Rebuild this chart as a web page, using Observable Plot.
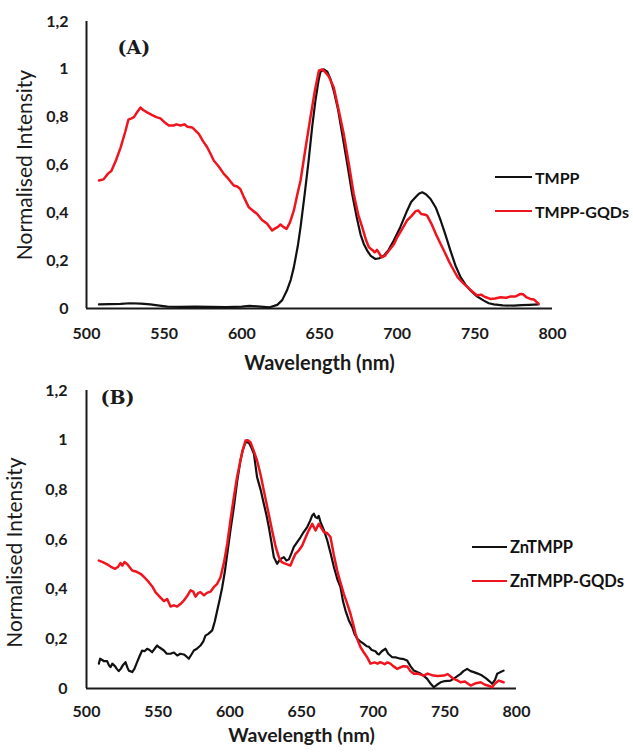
<!DOCTYPE html>
<html><head><meta charset="utf-8">
<script src="https://cdn.jsdelivr.net/npm/d3@7"></script>
<script src="https://cdn.jsdelivr.net/npm/@observablehq/plot@0.6"></script>
<style>
body{margin:0;background:#fff;}
#wrap{position:relative;width:633px;height:752px;overflow:hidden;}
.panel{position:relative;width:633px;}
.item{position:absolute;display:flex;align-items:center;white-space:nowrap;height:20px;
  font-family:Lato,sans-serif;font-weight:700;color:#111;z-index:2;}
.sw{display:inline-block;height:2.5px;}
</style></head><body>
<div id="wrap"><div id="pa" class="panel"></div><div id="pb" class="panel"></div></div>
<script>
// ---- tick labels ----
const xTicks = [500, 550, 600, 650, 700, 750, 800];
const yTicks = [0, 0.2, 0.4, 0.6, 0.8, 1, 1.2];

// ---- Panel A series: [wavelength nm, normalised intensity] ----
const namesA = ["TMPP", "TMPP-GQDs"];
const tmpp = [
[508,0.017],[515,0.018],[522,0.019],[528,0.022],[535,0.02],[541,0.017],[547,0.012],[552,0.008],
[560,0.007],[570,0.008],[580,0.007],[590,0.006],[600,0.008],[605,0.011],[612,0.008],[618,0.005],
[622.8,0.015],[626,0.035],[629,0.075],[631.5,0.12],[633.5,0.173],[636,0.26],[637.8,0.34],[640.5,0.48],
[643,0.618],[645.3,0.76],[647.4,0.87],[649.3,0.95],[650.6,0.99],[652.8,1.0],[655,0.99],[657,0.96],
[659.2,0.91],[662,0.83],[664.6,0.73],[668,0.6],[671,0.48],[674,0.38],[676.4,0.31],[678.5,0.27],
[680.7,0.242],[683,0.22],[686,0.207],[688.5,0.21],[691.4,0.221],[694.5,0.245],[697.8,0.284],[702,0.34],
[706.4,0.409],[709,0.445],[711.8,0.465],[714,0.48],[716.1,0.486],[718.5,0.478],[721.5,0.458],[725,0.42],
[728,0.368],[731,0.31],[734.3,0.242],[737.5,0.18],[740.8,0.131],[744,0.1],[747.2,0.075],[751,0.052],
[755.8,0.033],[759,0.022],[762.2,0.017],[768,0.013],[775,0.012],[780,0.014],[785,0.015],[791,0.017]
];
const tmppGqds = [
[508,0.535],[511,0.54],[514,0.565],[516,0.575],[519,0.62],[522,0.674],[525,0.74],[527,0.79],[529,0.795],
[530.5,0.8],[532,0.815],[534.8,0.84],[536.5,0.83],[539,0.82],[542,0.81],[545,0.8],[547.6,0.795],[550,0.78],
[553,0.765],[556,0.765],[558,0.77],[560.5,0.765],[563,0.77],[565,0.76],[568,0.757],[570,0.745],[572.3,0.73],
[575,0.7],[577.7,0.674],[580,0.645],[582,0.618],[585,0.595],[588.4,0.563],[591,0.545],[594.8,0.514],[597,0.51],
[599,0.5],[601,0.47],[604.5,0.423],[607,0.41],[609.9,0.395],[613,0.37],[616.3,0.354],[619.5,0.326],[621.5,0.335],
[623,0.34],[624.9,0.351],[627,0.34],[628.8,0.333],[631,0.36],[633.5,0.41],[635.5,0.47],[637.8,0.535],[641,0.67],
[644.2,0.8],[647,0.91],[649.6,0.994],[651.7,1.0],[653.5,0.99],[656,0.97],[659.2,0.924],[662,0.84],[665.6,0.73],
[669,0.6],[672,0.48],[675,0.39],[677.5,0.34],[680,0.285],[681.8,0.256],[684,0.245],[685.5,0.235],[687,0.245],
[688.5,0.23],[690,0.214],[692,0.22],[695,0.245],[698,0.27],[700,0.298],[703,0.33],[706.4,0.368],[709,0.385],
[711.8,0.406],[713.5,0.41],[715.5,0.395],[718,0.392],[719.3,0.388],[722,0.355],[725,0.31],[728,0.27],[731,0.23],
[733.5,0.195],[736.5,0.159],[739,0.13],[743,0.103],[746,0.085],[748.5,0.07],[751.5,0.054],[754,0.058],[756,0.05],
[758,0.045],[760,0.04],[763,0.042],[766.5,0.047],[770,0.045],[773,0.05],[776,0.05],[779.4,0.061],[781,0.06],
[783,0.048],[785.8,0.04],[788,0.038],[791,0.02]
];

// ---- Panel B series ----
const namesB = ["ZnTMPP", "ZnTMPP-GQDs"];
const znTmpp = [
[508.6,0.1],[509.5,0.12],[511,0.115],[512,0.11],[514.4,0.11],[515.5,0.095],[516.7,0.086],[518,0.1],[520,0.089],
[521,0.08],[522.5,0.07],[524,0.08],[525.5,0.095],[527.2,0.106],[528.5,0.085],[529.5,0.072],[531.9,0.066],[533.5,0.08],
[535.3,0.106],[537,0.13],[538.8,0.153],[540.5,0.15],[542.3,0.16],[544,0.155],[545.8,0.146],[547.5,0.16],[549.3,0.173],
[551,0.165],[554,0.153],[556,0.14],[558.6,0.14],[561,0.145],[563.3,0.133],[565.5,0.14],[567.9,0.137],[569.5,0.13],
[571.4,0.12],[573,0.135],[574.9,0.153],[577,0.16],[579.5,0.173],[581.5,0.19],[583,0.213],[585,0.22],[587.7,0.234],
[589.5,0.27],[591.2,0.314],[593,0.36],[594.7,0.408],[596.5,0.47],[598.2,0.542],[600.5,0.64],[602.8,0.73],[605,0.83],
[607.4,0.918],[609,0.96],[611,0.992],[613.3,0.99],[615,0.97],[616.8,0.945],[619,0.851],[621.5,0.8],[623.7,0.744],
[625.5,0.7],[627.2,0.65],[629,0.59],[630.7,0.529],[633,0.502],[635,0.52],[637.7,0.529],[639.5,0.515],[641.2,0.52],
[643,0.545],[644.6,0.569],[646.5,0.585],[649.3,0.609],[651.5,0.63],[654,0.65],[656,0.675],[657.5,0.697],[658.6,0.704],
[659.8,0.69],[661,0.686],[662,0.695],[663.3,0.67],[665.5,0.64],[668,0.596],[670.5,0.54],[672.6,0.489],[675,0.44],
[677.2,0.408],[679,0.35],[680.7,0.314],[683,0.275],[685.4,0.247],[687,0.22],[688.9,0.2],[691,0.19],[693.5,0.18],
[695.5,0.17],[697,0.168],[699,0.155],[701.6,0.15],[703,0.14],[704,0.137],[706,0.15],[708.6,0.16],[710.5,0.14],
[713.3,0.126],[716,0.125],[719,0.12],[721.5,0.118],[723.7,0.113],[726,0.09],[728.4,0.072],[731,0.065],[733,0.06],
[735.5,0.05],[737.7,0.039],[740,0.02],[742.3,0.005],[744.5,0.015],[747,0.025],[750,0.03],[754,0.032],[757.5,0.045],
[761,0.059],[763,0.07],[765.6,0.079],[768,0.07],[770.2,0.066],[773,0.06],[776,0.052],[779,0.04],[781,0.03],
[783,0.019],[785,0.035],[786.5,0.059],[788.5,0.065],[791,0.072]
];
const znTmppGqds = [
[508.6,0.515],[511,0.51],[514.4,0.5],[517,0.49],[520,0.482],[522,0.49],[523.7,0.505],[525,0.495],[526.5,0.509],
[528.5,0.5],[531.9,0.475],[535,0.47],[537.7,0.462],[540,0.45],[543.5,0.428],[546,0.41],[548.1,0.388],[551,0.37],
[554,0.352],[556.3,0.36],[558.6,0.33],[561,0.335],[563.3,0.33],[565.5,0.34],[567.9,0.354],[570,0.37],[572.6,0.395],
[574.5,0.39],[576,0.37],[578,0.385],[579.5,0.388],[582,0.375],[584,0.385],[586.5,0.39],[588.8,0.408],[591,0.42],
[593.5,0.448],[596,0.51],[598.2,0.583],[600.5,0.68],[602.8,0.77],[605,0.85],[607.4,0.918],[609,0.96],[611,0.999],
[612.5,1.0],[614.4,0.992],[616.5,0.96],[619,0.918],[621.5,0.86],[623.7,0.797],[626.5,0.72],[629.5,0.636],[632,0.57],
[634.2,0.529],[636,0.51],[637.7,0.505],[640,0.5],[642.3,0.495],[644,0.52],[645.8,0.542],[648,0.555],[650.5,0.576],
[653,0.61],[655,0.636],[657.5,0.663],[659.8,0.636],[662,0.663],[664,0.645],[665.6,0.63],[668,0.625],[670.2,0.61],
[672.5,0.54],[674.9,0.475],[677,0.43],[679.5,0.381],[682,0.34],[684.2,0.3],[686,0.26],[687.7,0.22],[689.5,0.19],
[691.2,0.166],[693.5,0.145],[695.8,0.126],[698.1,0.1],[701,0.105],[703,0.1],[705,0.106],[708,0.098],[710,0.105],
[712,0.1],[714,0.09],[716.8,0.079],[719,0.085],[721,0.09],[723.7,0.089],[726,0.07],[728.4,0.059],[731,0.06],
[735.3,0.052],[738,0.06],[742,0.052],[745,0.05],[749.3,0.052],[752,0.058],[756,0.039],[758,0.035],[761,0.025],
[764,0.028],[768,0.012],[771,0.02],[775,0.025],[778,0.015],[780,0.012],[783,0.005],[785,0.02],[787.7,0.032],[791,0.025]
];

const colors = ["#111111", "#f0141e"];
const xTitle = "Wavelength (nm)";
const yTitle = "Normalised Intensity";

function makePanel(o) {
  return Plot.plot({
    width: 633, height: o.height,
    marginLeft: 86, marginRight: o.marginRight, marginTop: o.marginTop, marginBottom: o.marginBottom,
    style: {fontFamily: "Lato, sans-serif", fontSize: "16px", fontWeight: "bold", color: "#1a1a1a", background: "white", overflow: "visible"},
    x: {domain: [500, 800]},
    y: {domain: [0, 1.2]},
    marks: [
      Plot.axisX({ticks: xTicks, tickSize: 0, tickPadding: o.xPad, label: null, tickFormat: d => String(d)}),
      Plot.axisY({ticks: yTicks, tickSize: 0, tickPadding: o.yPad, label: null, tickFormat: d => String(d).replace(".", ",")}),
      Plot.ruleY([0], {stroke: "#1a1a1a", strokeWidth: 2}),
      Plot.ruleX([500], {stroke: "#1a1a1a", strokeWidth: 2}),
      Plot.line(o.series[0], {x: d => d[0], y: d => d[1], stroke: colors[0], strokeWidth: 2.2}),
      Plot.line(o.series[1], {x: d => d[0], y: d => d[1], stroke: colors[1], strokeWidth: 2.5}),
      Plot.text([xTitle], {frameAnchor: "bottom", textAnchor: "middle", dy: o.xTitleDy, lineAnchor: "middle", fontSize: o.xTitleSize, fontWeight: "bold", fill: "#1a1a1a"}),
      Plot.text([yTitle], {frameAnchor: "left", textAnchor: "middle", rotate: -90, dx: o.yTitleDx, dy: o.yTitleDy, lineAnchor: "middle", fontSize: 21, fontWeight: "normal", fill: "#1a1a1a"}),
      Plot.text([o.letter], {frameAnchor: "top-left", textAnchor: "start", lineAnchor: "middle", dx: o.letterDx, dy: o.letterDy,
        fontFamily: "DejaVu Serif", fontWeight: "bold", fontSize: 19, fill: "#1a1a1a"})
    ]
  });
}

function legend(container, names, left, tops, sw, fs) {
  names.forEach((n, i) => {
    const item = document.createElement("div");
    item.className = "item";
    item.style.left = left + "px";
    item.style.top = (tops[i] - 10) + "px";
    item.style.fontSize = fs + "px";
    const s = document.createElement("span");
    s.className = "sw";
    s.style.width = sw + "px";
    s.style.marginRight = "3px";
    s.style.background = colors[i];
    item.appendChild(s);
    item.appendChild(document.createTextNode(n));
    container.appendChild(item);
  });
}

const pa = document.getElementById("pa");
pa.appendChild(makePanel({
  height: 375, marginTop: 21, marginBottom: 67, marginRight: 81, yPad: 18, xPad: 19,
  series: [tmpp, tmppGqds], xTitleDy: 55, xTitleSize: 20, yTitleDx: -61, yTitleDy: 0,
  letter: "(A)", letterDx: 31, letterDy: 26
}));
legend(pa, namesA, 495, [177, 211], 37, 16);

const pb = document.getElementById("pb");
pb.appendChild(makePanel({
  height: 377, marginTop: 15, marginBottom: 64, marginRight: 117, yPad: 19, xPad: 17,
  series: [znTmpp, znTmppGqds], xTitleDy: 47, xTitleSize: 19.5, yTitleDx: -71, yTitleDy: 13,
  letter: "(B)", letterDx: 14, letterDy: 7
}));
legend(pb, namesB, 472, [172, 206], 35, 16.5);
</script>
</body></html>
